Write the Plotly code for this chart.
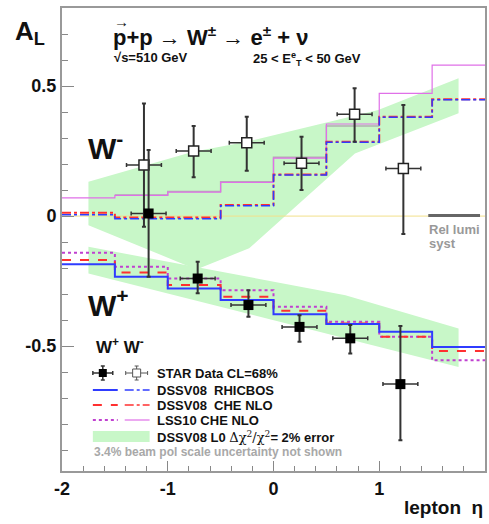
import plotly.graph_objects as go

# ---------------- data ----------------
edges = [-2.0, -1.5, -1.0, -0.5, 0.0, 0.5, 1.0, 1.5, 2.0]

# W+ theory (per bin)
wp_dssv_rhicbos = [-0.185, -0.233, -0.278, -0.323, -0.377, -0.415, -0.445, -0.503]
wp_dssv_che = [-0.169, -0.217, -0.265, -0.310, -0.364, -0.413, -0.464, -0.519]
wp_lss_che = [-0.141, -0.195, -0.240, -0.285, -0.349, -0.406, -0.464, -0.554]
# W- theory (per bin)
wm_dssv_rhicbos = [0.005, -0.010, -0.010, 0.040, 0.158, 0.284, 0.380, 0.447]
wm_dssv_che = [0.013, -0.005, -0.005, 0.043, 0.160, 0.286, 0.382, 0.449]
wm_lss_che = [0.070, 0.080, 0.092, 0.130, 0.223, 0.354, 0.472, 0.580]
gray_edges = [-1.5, -1.0, -0.5, 0.0, 0.5, 1.0]
wm_gray = [0.081, 0.095, 0.132, 0.226, 0.346]

# DSSV08 LO error bands (polygon outlines)
wm_band_eta = [-1.75, -0.76, -0.25, 0.99, 1.75, 1.75, 0.77, -0.23, -0.73, -1.75]
wm_band_al = [0.132, 0.247, 0.286, 0.408, 0.530, 0.395, 0.241, -0.124, -0.205, -0.035]
wp_band_eta = [-1.75, 0.68, 1.75, 1.75, -1.75]
wp_band_al = [-0.118, -0.304, -0.432, -0.580, -0.221]

# STAR data
wm_eta = [-1.225, -0.755, -0.253, 0.265, 0.767, 1.228]
wm_al = [0.196, 0.250, 0.282, 0.203, 0.392, 0.183]
wm_err_up = [0.237, 0.096, 0.100, 0.102, 0.099, 0.244]
wm_err_dn = [0.237, 0.101, 0.108, 0.103, 0.106, 0.252]
wp_eta = [-1.181, -0.717, -0.237, 0.246, 0.726, 1.200]
wp_al = [0.010, -0.240, -0.342, -0.426, -0.470, -0.646]
wp_err_up = [0.244, 0.064, 0.057, 0.045, 0.051, 0.223]
wp_err_dn = [0.243, 0.057, 0.045, 0.057, 0.058, 0.216]
eta_err = 0.165

x_ticks = [-2, -1, 0, 1, 2]
y_ticks = [-0.5, 0, 0.5]

# ---------------- helpers ----------------
W, H = 489, 524
L, R, T, B = 62, 2, 8, 53
XR = [-2.0, 2.0]
YR = [-0.98, 0.8]


def px_x(p):
    return XR[0] + (p - L) / (W - L - R) * (XR[1] - XR[0])


def px_y(p):
    return YR[1] - (p - T) / (H - T - B) * (YR[1] - YR[0])


def pap_x(p):
    return (p - L) / (W - L - R)


def pap_y(p):
    return (H - B - p) / (H - T - B)


def steps(e, v):
    return list(e), list(v) + [v[-1]]


BLUE = "#2f3cff"
RED = "#ff3030"
PINK = "#c040d0"
PINK_L = "#e070e8"
GREEN = "#c8f7c8"
FONT = "Liberation Sans"

fig = go.Figure()

# bands
fig.add_trace(go.Scatter(x=wm_band_eta, y=wm_band_al, fill="toself", fillcolor=GREEN,
                         line=dict(width=0), mode="lines", hoverinfo="skip"))
fig.add_trace(go.Scatter(x=wp_band_eta, y=wp_band_al, fill="toself", fillcolor=GREEN,
                         line=dict(width=0), mode="lines", hoverinfo="skip"))

# zero line
fig.add_trace(go.Scatter(x=XR, y=[0, 0], mode="lines", line=dict(color="#f2e08a", width=1)))

# W- theory
gx, gy = steps(gray_edges, wm_gray)
fig.add_trace(go.Scatter(x=gx, y=gy, mode="lines", line_shape="hv",
                         line=dict(color="#b0b0b0", width=1.5)))
sx, sy = steps(edges, wm_lss_che)
fig.add_trace(go.Scatter(x=sx, y=sy, mode="lines", line_shape="hv",
                         line=dict(color=PINK_L, width=1.2)))
sx, sy = steps(edges, wm_dssv_che)
fig.add_trace(go.Scatter(x=sx, y=sy, mode="lines", line_shape="hv",
                         line=dict(color=RED, width=2, dash="dashdot")))
sx, sy = steps(edges, wm_dssv_rhicbos)
fig.add_trace(go.Scatter(x=sx, y=sy, mode="lines", line_shape="hv",
                         line=dict(color=BLUE, width=1.5, dash="dashdot")))

# W+ theory
sx, sy = steps(edges, wp_lss_che)
fig.add_trace(go.Scatter(x=sx, y=sy, mode="lines", line_shape="hv",
                         line=dict(color=PINK, width=2, dash="dot")))
sx, sy = steps(edges, wp_dssv_che)
fig.add_trace(go.Scatter(x=sx, y=sy, mode="lines", line_shape="hv",
                         line=dict(color=RED, width=2, dash="dash")))
sx, sy = steps(edges, wp_dssv_rhicbos)
fig.add_trace(go.Scatter(x=sx, y=sy, mode="lines", line_shape="hv",
                         line=dict(color=BLUE, width=2)))

# data
errc = "#333333"
fig.add_trace(go.Scatter(
    x=wm_eta, y=wm_al, mode="markers",
    marker=dict(symbol="square", size=10, color="white", line=dict(color="#222", width=1.5)),
    error_y=dict(type="data", symmetric=False, array=wm_err_up, arrayminus=wm_err_dn,
                 color=errc, thickness=2, width=2),
    error_x=dict(type="constant", value=eta_err, color=errc, thickness=1.5, width=2)))
fig.add_trace(go.Scatter(
    x=wp_eta, y=wp_al, mode="markers",
    marker=dict(symbol="square", size=10, color="black"),
    error_y=dict(type="data", symmetric=False, array=wp_err_up, arrayminus=wp_err_dn,
                 color=errc, thickness=2, width=2),
    error_x=dict(type="constant", value=eta_err, color=errc, thickness=1.5, width=2)))

# Rel lumi syst bar
fig.add_trace(go.Scatter(x=[px_x(430), px_x(482)], y=[px_y(215.5)] * 2, mode="lines",
                         line=dict(color="#666666", width=3)))

# ---------------- manual legend ----------------
leg_y = [373, 390, 405, 420]
# row 1: data symbols
fig.add_trace(go.Scatter(x=[px_x(103)], y=[px_y(373)], mode="markers",
                         marker=dict(symbol="square", size=8, color="black"),
                         error_x=dict(type="constant", value=px_x(113) - px_x(103), color=errc, thickness=1.5, width=2),
                         error_y=dict(type="constant", value=px_y(366) - px_y(373), color=errc, thickness=1.5, width=2)))
fig.add_trace(go.Scatter(x=[px_x(137)], y=[px_y(373)], mode="markers",
                         marker=dict(symbol="square", size=8, color="white", line=dict(color="#555", width=1)),
                         error_x=dict(type="constant", value=px_x(148) - px_x(137), color="#555", thickness=1, width=2),
                         error_y=dict(type="constant", value=px_y(366) - px_y(373), color="#555", thickness=1, width=2)))
leg_styles = [
    ((BLUE, 2, "solid"), (BLUE, 1.5, "dashdot")),
    ((RED, 2, "dash"), (RED, 1.5, "dashdot")),
    ((PINK, 2, "dot"), (PINK_L, 1.2, "solid")),
]
for (s1, s2), yy in zip(leg_styles, leg_y[1:]):
    fig.add_trace(go.Scatter(x=[px_x(93), px_x(118)], y=[px_y(yy)] * 2, mode="lines",
                             line=dict(color=s1[0], width=s1[1], dash=s1[2])))
    fig.add_trace(go.Scatter(x=[px_x(125), px_x(150)], y=[px_y(yy)] * 2, mode="lines",
                             line=dict(color=s2[0], width=s2[1], dash=s2[2])))
# green box
fig.add_shape(type="rect", x0=px_x(93), x1=px_x(150), y0=px_y(442), y1=px_y(431),
              fillcolor=GREEN, line=dict(width=0), layer="above")

legend_texts = ["STAR Data CL=68%", "DSSV08  RHICBOS", "DSSV08  CHE NLO", "LSS10 CHE NLO",
                "DSSV08 L0 <span style='font-family:DejaVu Serif;font-weight:normal'>Δχ<sup>2</sup>/χ<sup>2</sup></span>= 2% error"]
for txt, yy in zip(legend_texts, leg_y + [437]):
    fig.add_annotation(x=px_x(155), y=px_y(yy), text="<b>" + txt + "</b>", showarrow=False,
                       xanchor="left", yanchor="middle", font=dict(family=FONT, size=13, color="#111"))
fig.add_annotation(x=px_x(92), y=px_y(452), text="<b>3.4% beam pol scale uncertainty not shown</b>",
                   showarrow=False, xanchor="left", yanchor="middle",
                   font=dict(family=FONT, size=12, color="#a8a8a8"))


def ann(px, py, text, size, color="#111", xanchor="left", bold=True):
    fig.add_annotation(x=px_x(px), y=px_y(py), text=("<b>%s</b>" % text) if bold else text,
                       showarrow=False, xanchor=xanchor, yanchor="middle",
                       font=dict(family=FONT, size=size, color=color))


ann(86, 146, "W<sup>-</sup>", 30)
ann(86, 303, "W<sup>+</sup>", 30)
ann(94, 346, "W<sup>+</sup> W<sup>-</sup>", 17)
ann(429, 229, "Rel lumi", 13, color="#999")
ann(429, 243, "syst", 13, color="#999")

# header texts
fig.add_annotation(xref="paper", yref="paper", x=pap_x(111), y=pap_y(36),
                   text="<b>p+p → W<sup>±</sup> → e<sup>±</sup> + ν</b>",
                   showarrow=False, xanchor="left", yanchor="middle",
                   font=dict(family=FONT, size=22, color="#111"))
fig.add_annotation(xref="paper", yref="paper", x=pap_x(112), y=pap_y(22),
                   text="<b>→</b>", showarrow=False, xanchor="left", yanchor="middle",
                   font=dict(family=FONT, size=15, color="#111"))
fig.add_annotation(xref="paper", yref="paper", x=pap_x(112), y=pap_y(58),
                   text="<b>√s=510 GeV</b>", showarrow=False, xanchor="left", yanchor="middle",
                   font=dict(family=FONT, size=13, color="#111"))
fig.add_annotation(xref="paper", yref="paper", x=pap_x(252), y=pap_y(59),
                   text="<b>25 < E<sup>e</sup><sub>T</sub> < 50 GeV</b>", showarrow=False, xanchor="left",
                   yanchor="middle", font=dict(family=FONT, size=13, color="#111"))
fig.add_annotation(xref="paper", yref="paper", x=pap_x(13), y=pap_y(33),
                   text="<b>A<sub>L</sub></b>", showarrow=False, xanchor="left", yanchor="middle",
                   font=dict(family=FONT, size=26, color="#111"))
fig.add_annotation(xref="paper", yref="paper", x=1.0, y=pap_y(508),
                   text="<b>lepton  η</b>", showarrow=False, xanchor="right", yanchor="middle",
                   font=dict(family=FONT, size=19, color="#111"))

fig.update_layout(
    width=W, height=H, margin=dict(l=L, r=R, t=T, b=B),
    paper_bgcolor="white", plot_bgcolor="white", showlegend=False,
    xaxis=dict(range=XR, tickvals=x_ticks, ticktext=["<b>%g</b>" % v for v in x_ticks],
               ticks="inside", ticklen=10, tickwidth=1, tickcolor="#888",
               minor=dict(dtick=0.2, ticks="inside", ticklen=5, tickcolor="#888"),
               showgrid=False, zeroline=False, showline=True, linecolor="#999", linewidth=2,
               mirror=True, tickfont=dict(family=FONT, size=18, color="#111")),
    yaxis=dict(range=YR, tickvals=y_ticks, ticktext=["<b>%g</b>" % v for v in y_ticks],
               ticks="inside", ticklen=12, tickwidth=1, tickcolor="#888",
               minor=dict(dtick=0.1, ticks="inside", ticklen=6, tickcolor="#888"),
               showgrid=False, zeroline=False, showline=True, linecolor="#999", linewidth=2,
               mirror=True, tickfont=dict(family=FONT, size=18, color="#111")),
)

fig.write_html("out.html")
